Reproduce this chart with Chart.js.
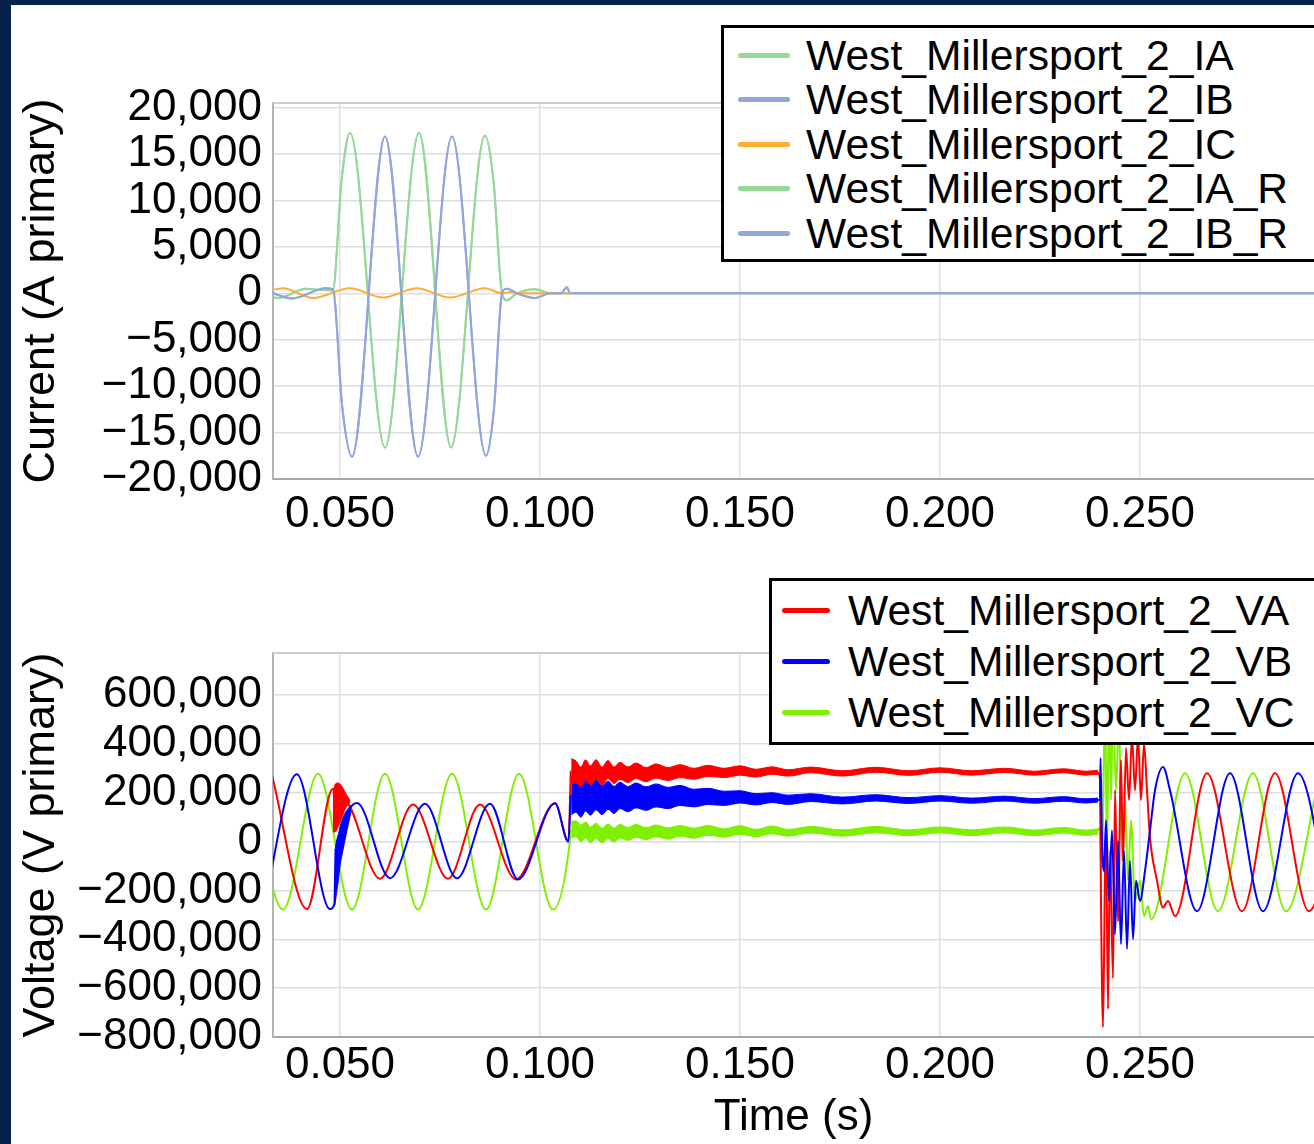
<!DOCTYPE html>
<html>
<head>
<meta charset="utf-8">
<script src="https://cdn.jsdelivr.net/npm/chart.js@4.4.1/dist/chart.umd.min.js"></script>
<style>
  html, body { margin: 0; padding: 0; }
  body { width: 1314px; height: 1144px; overflow: hidden; background: #03214b; position: relative;
         font-family: "Liberation Sans", Arial, sans-serif; }
  #panel { position: absolute; left: 11px; top: 5px; right: 0; bottom: 0; background: #fff; }
  .box { position: absolute; left: 0; width: 1314px; }
  .box canvas { display: block; }
  .legend { position: absolute; box-sizing: border-box; border: 3px solid #000; background: #fff;
            font-size: 42.6px; color: #000; white-space: nowrap; overflow: hidden; }
  .legend .row { display: flex; align-items: center; }
  .legend .swatch { display: inline-block; height: 5px; border-radius: 3px; }
  #currentLegend { left: 721px; top: 25px; width: 610px; height: 237px; padding-top: 5px; }
  #currentLegend .row { height: 44.5px; }
  #currentLegend .swatch { width: 52px; margin-left: 14px; margin-right: 16px; }
  #voltageLegend { left: 769px; top: 578px; width: 560px; height: 167px; padding-top: 3.5px; }
  #voltageLegend .row { height: 51px; }
  #voltageLegend .swatch { width: 48px; margin-left: 10px; margin-right: 18px; }
</style>
</head>
<body>
<div id="panel"></div>
<div class="box" style="top:0;height:560px"><canvas id="currentChart" width="1314" height="560"></canvas></div>
<div class="box" style="top:560px;height:584px"><canvas id="voltageChart" width="1314" height="584"></canvas></div>
<div class="legend" id="currentLegend"></div>
<div class="legend" id="voltageLegend"></div>
<script>
// ---- tick labels ----
const timeTicks = [0.05, 0.10, 0.15, 0.20, 0.25];
const currentTicks = [-20000, -15000, -10000, -5000, 0, 5000, 10000, 15000, 20000];
const voltageTicks = [-800000, -600000, -400000, -200000, 0, 200000, 400000, 600000];

// ---- current (A primary), time in s ----
const tIA = [0.0320, 0.0345, 0.0415, 0.0455, 0.0482, 0.0504, 0.0525, 0.06125, 0.06975, 0.07775, 0.08625, 0.0884, 0.0905, 0.09175, 0.09425, 0.09875, 0.1025, 0.1075];
const vIA = [-300, -500, 500, 350, 300, 12200, 17300, -16600, 17300, -16600, 17000, 12000, 0, -750, 0, 450, 0, 0];

const tIB = [0.0320, 0.0380, 0.0465, 0.0482, 0.0506, 0.0530, 0.06125, 0.0695, 0.0780, 0.0865, 0.0885, 0.0905, 0.0918, 0.09425, 0.09875, 0.1025, 0.1052, 0.10675, 0.1075, 0.3000];
const vIB = [200, -550, 540, 450, -12400, -17600, 16900, -17600, 16900, -17500, -12400, 0, 500, 0, -500, 0, 0, 650, 0, 0];

const tIC = [0.0274, 0.03575, 0.04325, 0.0525, 0.06075, 0.06925, 0.0775, 0.08625, 0.0905, 0.0925, 0.0950, 0.1075];
const vIC = [-450, 550, -500, 550, -450, 550, -450, 550, 0, 150, 0, 0];

// ---- voltage (kV primary), null = gap where the noisy band is drawn ----
const tVA = [0.0329, 0.04175, 0.0482, 0.0500, 0.0516, 0.0600, 0.06825, 0.0770, 0.0850, 0.0940, 0.10375, 0.1071, 0.1077, 0.1700,
  0.2395, 0.2400, 0.24025, 0.24075, 0.24125, 0.2415, 0.2420, 0.2425, 0.24325, 0.24375, 0.2445, 0.24525, 0.24575, 0.2465, 0.24725,
  0.2480, 0.24875, 0.2495, 0.25025, 0.2510, 0.25175, 0.2525, 0.25425, 0.25575, 0.2570, 0.25875, 0.26675, 0.2755, 0.28375, 0.29225, 0.30075];
const vVA = [278, -276, 215, 175, 165, -152, 152, -152, 152, -155, 157, 0, 290, null,
  283, 250, -243, -759, -120, 45, -685, -37, -560, 210, -326, 334, -78, 383, 170,
  430, 210, 430, 170, 400, 210, 16, -160, -270, -243, -305, 280, -285, 280, -285, 280];

const tVB = [0.03085, 0.0392, 0.0475, 0.0486, 0.0489, 0.0505, 0.0525, 0.05425, 0.0625, 0.07125, 0.07925, 0.0875, 0.0945, 0.10375, 0.1071, 0.1077, 0.1700,
  0.2395, 0.2400, 0.24013, 0.2405, 0.2410, 0.2415, 0.24225, 0.2430, 0.24375, 0.2445, 0.24525, 0.2460, 0.24675, 0.2475, 0.24825,
  0.2490, 0.2500, 0.25125, 0.2525, 0.25375, 0.25575, 0.2575, 0.26425, 0.2725, 0.28075, 0.2895, 0.29775];
const vVB = [-276, 276, -276, -255, -40, 40, 135, 158, -150, 155, -150, 155, -155, 157, 0, 190, null,
  170, 172, 342, 4, -120, 87, -243, 45, -380, 4, -420, -37, -440, -78, -400,
  -160, -243, -120, 45, 210, 305, 210, -285, 280, -285, 280, -285];

const tVC = [0.0274, 0.03575, 0.0445, 0.0530, 0.06125, 0.0695, 0.0780, 0.0865, 0.09475, 0.10325, 0.1074, 0.1077, 0.1700,
  0.2395, 0.2400, 0.24025, 0.24075, 0.24125, 0.24175, 0.24225, 0.24275, 0.24325, 0.2440, 0.24475, 0.2455, 0.24625, 0.2470,
  0.24775, 0.24875, 0.2500, 0.2510, 0.2520, 0.25275, 0.26125, 0.2695, 0.27825, 0.2865, 0.2950];
const vVC = [278, -278, 278, -278, 278, -278, 278, -278, 278, -278, -10, 50, null,
  45, 58, -107, 87, 580, -37, 580, 170, 580, 210, 500, -78, 170, -160,
  87, -243, -160, -305, -264, -318, 280, -285, 280, -285, 280];

// noisy envelopes right after the fault (kV)
const tBandA1 = [0.0482, 0.0488, 0.0495, 0.0505, 0.0515, 0.0525];
const hiA1 = [200, 235, 240, 225, 195, 168];
const loA1 = [40, 40, 60, 100, 140, 160];
const tBandB1 = [0.0487, 0.0495, 0.0500, 0.0508, 0.0518, 0.0528];
const hiB1 = [-40, 20, 60, 100, 130, 150];
const loB1 = [-260, -170, -100, -30, 50, 125];

// noisy envelopes while the breaker is open (kV)
const tBand2 = [0.1078, 0.1090, 0.1102, 0.1114, 0.1126, 0.1140, 0.1155, 0.1170, 0.1185, 0.1200, 0.1220, 0.1240, 0.1265, 0.1290,
  0.1320, 0.1350, 0.1385, 0.1420, 0.1460, 0.1500, 0.1540, 0.1580, 0.1620, 0.1677, 0.1756, 0.1839, 0.1922, 0.2000, 0.2079,
  0.2162, 0.2236, 0.2309, 0.2365, 0.2395];
const hiA2 = [340, 330, 305, 335, 310, 335, 305, 332, 305, 325, 305, 322, 303, 318, 303, 315, 300, 312, 300, 310, 296, 306, 294, 305, 290, 304, 290, 302, 290, 300, 288, 298, 288, 292];
const loA2 = [235, 240, 225, 250, 232, 255, 232, 258, 238, 255, 242, 258, 245, 260, 250, 262, 255, 267, 262, 272, 264, 276, 268, 282, 268, 284, 271, 284, 272, 283, 272, 282, 272, 276];
const hiB2 = [270, 262, 240, 258, 232, 252, 228, 248, 226, 243, 225, 240, 224, 236, 222, 230, 214, 218, 206, 208, 196, 200, 190, 196, 182, 192, 180, 188, 178, 186, 176, 184, 175, 178];
const loB2 = [110, 120, 100, 125, 108, 130, 110, 132, 115, 135, 122, 138, 128, 142, 135, 148, 142, 152, 148, 158, 150, 160, 152, 164, 154, 166, 156, 166, 157, 166, 157, 165, 158, 162];
const hiC2 = [82, 85, 68, 80, 60, 75, 55, 72, 55, 70, 58, 70, 57, 68, 56, 66, 55, 66, 52, 65, 50, 64, 50, 62, 48, 62, 48, 60, 48, 60, 47, 58, 47, 52];
const loC2 = [15, 20, 0, 15, -5, 12, -5, 12, -2, 15, 5, 18, 8, 20, 10, 22, 14, 26, 18, 30, 20, 32, 22, 35, 22, 36, 24, 36, 24, 36, 24, 35, 25, 30];

const FONT = '"Liberation Sans", Arial, sans-serif';

Chart.defaults.font.family = FONT;
Chart.defaults.color = '#000';

const GREEN_I = 'rgb(150, 216, 150)';
const BLUE_I = 'rgb(146, 166, 222)';
const ORANGE_I = 'rgb(255, 172, 50)';
const RED_V = '#ff0000';
const BLUE_V = '#0000ff';
const GREEN_V = '#7ff000';

function series(ts, vs, k = 1) {
  return ts.map((t, i) => ({ x: t, y: vs[i] === null ? null : vs[i] * k }));
}

function lineSet(label, ts, vs, color, k, order) {
  return {
    label, data: series(ts, vs, k), borderColor: color, backgroundColor: color,
    borderWidth: 2, pointRadius: 0, cubicInterpolationMode: 'monotone', fill: false, order
  };
}

function bandSets(ts, hi, lo, color, order) {
  return [
    { label: '', band: true, data: series(ts, hi, 1000), borderColor: color, borderWidth: 1,
      pointRadius: 0, cubicInterpolationMode: 'monotone', fill: false, order },
    { label: '', band: true, data: series(ts, lo, 1000), borderColor: color, backgroundColor: color, borderWidth: 1,
      pointRadius: 0, cubicInterpolationMode: 'monotone', fill: '-1', order }
  ];
}

const signed = v => (v < 0 ? '\u2212' : '') + Math.abs(v).toLocaleString('en-US');
const fixedTicks = list => scale => { scale.ticks = list.map(v => ({ value: v })); };

// thin frame along the top of the plot area
const framePlugin = {
  id: 'frame',
  beforeDatasetsDraw(chart) {
    const { ctx, chartArea: a } = chart;
    ctx.save();
    ctx.strokeStyle = '#cdcdcd';
    ctx.lineWidth = 2;
    ctx.beginPath();
    ctx.moveTo(a.left, a.top);
    ctx.lineTo(a.right, a.top);
    ctx.stroke();
    ctx.restore();
  }
};

function makeOptions(cfg) {
  return {
    responsive: false,
    animation: false,
    events: [],
    layout: { padding: { top: cfg.top, left: 0, right: 0, bottom: 0 } },
    plugins: { legend: { display: false }, tooltip: { enabled: false } },
    scales: {
      x: {
        type: 'linear', min: 0.03325, max: 0.2935,
        afterBuildTicks: fixedTicks(timeTicks),
        afterFit: s => { s.height = cfg.xHeight; },
        ticks: {
          autoSkip: false, maxRotation: 0,
          padding: cfg.xPad, font: { size: 44 }, color: '#000',
          callback: v => v.toFixed(3)
        },
        grid: { color: '#dedede', lineWidth: 1.5, drawTicks: false },
        border: { color: '#a6a6a6', width: 2 },
        title: cfg.xTitle
          ? { display: true, text: cfg.xTitle, font: { size: 44 }, color: '#000', padding: { top: 0, bottom: 0 } }
          : { display: false }
      },
      y: {
        min: cfg.yMin, max: cfg.yMax,
        afterBuildTicks: fixedTicks(cfg.yTicks),
        afterFit: s => { s.width = 273; },
        ticks: { autoSkip: false, padding: 11, font: { size: 44 }, color: '#000', callback: signed },
        grid: { color: '#dedede', lineWidth: 1.5, drawTicks: false },
        border: { color: '#b4b4b4', width: 2 },
        title: { display: true, text: cfg.yTitle, font: { size: 45 }, color: '#000', padding: { top: 15, bottom: 0 } }
      }
    }
  };
}

function buildLegend(chart, box) {
  chart.data.datasets.filter(d => !d.band).forEach(d => {
    const row = document.createElement('div');
    row.className = 'row';
    const sw = document.createElement('span');
    sw.className = 'swatch';
    sw.style.background = d.borderColor;
    const tx = document.createElement('span');
    tx.textContent = d.label;
    row.append(sw, tx);
    box.appendChild(row);
  });
}

const currentChart = new Chart(document.getElementById('currentChart'), {
  type: 'line',
  data: {
    datasets: [
      lineSet('West_Millersport_2_IA', tIA, vIA, GREEN_I, 1, 3),
      lineSet('West_Millersport_2_IB', tIB, vIB, BLUE_I, 1, 2),
      lineSet('West_Millersport_2_IC', tIC, vIC, ORANGE_I, 1, 1),
      lineSet('West_Millersport_2_IA_R', tIA, vIA, GREEN_I, 1, 4),
      lineSet('West_Millersport_2_IB_R', tIB, vIB, BLUE_I, 1, 0)
    ]
  },
  options: makeOptions({ top: 103, xHeight: 81, xPad: 9.6, yMin: -20000, yMax: 20500, yTicks: currentTicks,
    yTitle: 'Current (A primary)' }),
  plugins: [framePlugin]
});

const voltageChart = new Chart(document.getElementById('voltageChart'), {
  type: 'line',
  data: {
    datasets: [
      lineSet('West_Millersport_2_VA', tVA, vVA, RED_V, 1000, 4),
      lineSet('West_Millersport_2_VB', tVB, vVB, BLUE_V, 1000, 3),
      lineSet('West_Millersport_2_VC', tVC, vVC, GREEN_V, 1000, 5),
      ...bandSets(tBandA1, hiA1, loA1, RED_V, 2),
      ...bandSets(tBandB1, hiB1, loB1, BLUE_V, 1),
      ...bandSets(tBand2, hiA2, loA2, RED_V, 0),
      ...bandSets(tBand2, hiB2, loB2, BLUE_V, 0),
      ...bandSets(tBand2, hiC2, loC2, GREEN_V, 0)
    ]
  },
  options: makeOptions({ top: 93, xHeight: 107, xPad: 2.6, yMin: -800000, yMax: 772000, yTicks: voltageTicks,
    yTitle: 'Voltage (V primary)', xTitle: 'Time (s)' }),
  plugins: [framePlugin]
});

buildLegend(currentChart, document.getElementById('currentLegend'));
buildLegend(voltageChart, document.getElementById('voltageLegend'));
</script>
</body>
</html>
